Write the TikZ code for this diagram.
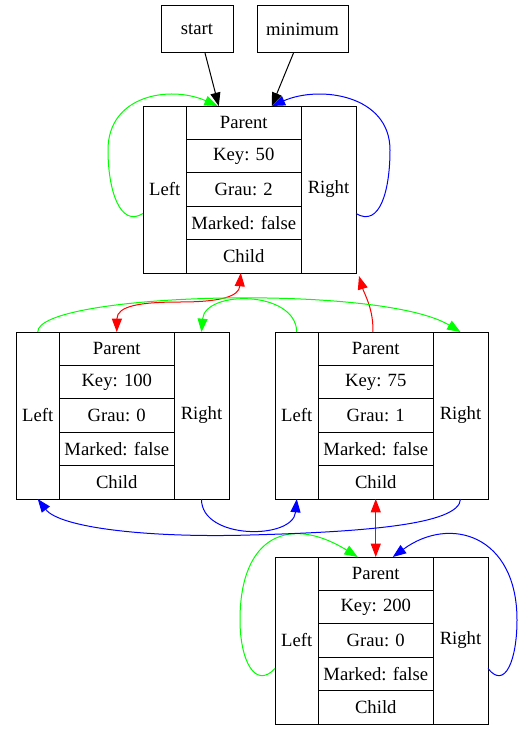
\documentclass[tikz,border=0pt]{standalone}
\usepackage{fontspec}
\setmainfont{Liberation Serif}
\usetikzlibrary{arrows.meta,calc}

\begin{document}
\begin{tikzpicture}[x=0.75pt,y=-0.75pt,
  cell/.style={draw,line width=0.75pt,inner sep=0pt,outer sep=0pt,anchor=north west,
    font=\fontsize{14}{16.8}\selectfont},
  box/.style={draw,line width=0.75pt,inner sep=0pt,font=\fontsize{14}{16.8}\selectfont},
  arr/.style={line width=0.75pt,-{Triangle[length=10pt,width=7.5pt]}},
  darr/.style={line width=0.75pt,{Triangle[length=10pt,width=7.5pt]}-{Triangle[length=10pt,width=7.5pt]}}]
\useasboundingbox (0,0) rectangle (528,735);

\node[box,minimum width=54pt,minimum height=35.25pt] (start) at (197,29) {start};
\node[box,minimum width=68.25pt,minimum height=35.25pt] (minimum) at (302.5,29) {minimum};

% the four heap records
\foreach \nm/\x/\y/\k/\g in {r50/143/106/50/2, r100/16/332/100/0, r75/275/332/75/1, r200/275/557/200/0}
{
\node[cell,minimum width=32.6pt,minimum height=125.25pt] (\nm L) at (\x,\y) {Left};
\node[cell,minimum width=85.9pt,minimum height=25.05pt] (\nm P) at (\x+43.5,\y) {Parent};
\node[cell,minimum width=85.9pt,minimum height=25.05pt] (\nm K) at (\x+43.5,\y+33.4) {Key: \k};
\node[cell,minimum width=85.9pt,minimum height=25.05pt] (\nm G) at (\x+43.5,\y+66.8) {Grau: \g};
\node[cell,minimum width=85.9pt,minimum height=25.05pt] (\nm M) at (\x+43.5,\y+100.2) {Marked: false};
\node[cell,minimum width=85.9pt,minimum height=25.05pt] (\nm C) at (\x+43.5,\y+133.6) {Child};
\node[cell,minimum width=41.25pt,minimum height=125.25pt] (\nm R) at (\x+158,\y) {Right};
}

\draw[arr] ($(start.south)+(8,0)$) -- ($(r50P.north)+(-25,0)$);
\draw[arr] ($(minimum.south)+(-9,0)$) -- ($(r50P.north)+(28,0)$);

% self loops
\draw[arr,green] ($(r50L.west)+(0,24)$) .. controls (120,228) and (108,190) .. (108,150)
  .. controls (108,95) and (170,85) .. ($(r50P.north)+(-26,0)$);
\draw[arr,blue] ($(r50R.east)+(0,24)$) .. controls (380,228) and (390,190) .. (390,150)
  .. controls (390,95) and (320,85) .. ($(r50P.north)+(28,0)$);
\draw[arr,green] ($(r200L.west)+(0,28)$) .. controls (255,690) and (240,660) .. (240,620)
  .. controls (240,535) and (290,515) .. ($(r200P.north)+(-18,0)$);
\draw[arr,blue] ($(r200R.east)+(0,28)$) .. controls (505,690) and (517,660) .. (517,620)
  .. controls (517,535) and (450,515) .. ($(r200P.north)+(17,0)$);

% parent / child
\draw[darr,red] ($(r50C.south)+(-3,0)$) .. controls (239,296) and (222,302) .. (180,302)
  .. controls (140,302) and (117,306) .. (r100P.north);
\draw[arr,red] ($(r75P.north)+(-3,0)$) .. controls (374,310) and (364,293) .. ($(r50R.south east)+(3,3)$);
\draw[darr,red] (r75C.south) -- (r200P.north);

% siblings
\draw[arr,green] (r100L.north) .. controls (37,293) and (380,283) .. (r75R.north);
\draw[arr,green] (r75L.north) .. controls (296,290) and (205,290) .. (r100R.north);
\draw[arr,blue] (r100R.south) .. controls (201,540) and (293,540) .. (r75L.south);
\draw[arr,blue] (r75R.south) .. controls (460,525) and (360,532) .. (250,535)
  .. controls (150,538) and (60,528) .. (r100L.south);
\end{tikzpicture}
\end{document}
